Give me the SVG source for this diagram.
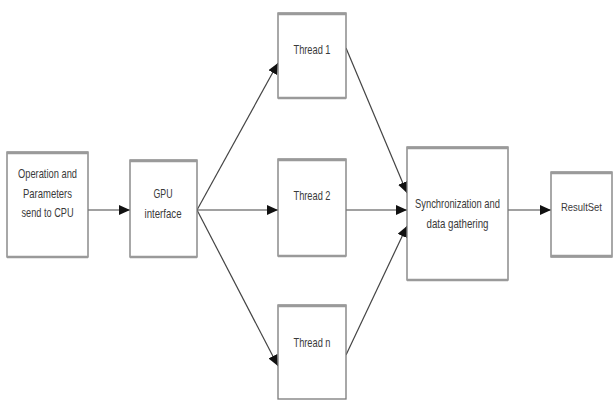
<svg xmlns="http://www.w3.org/2000/svg" width="613" height="400" viewBox="0 0 613 400">
<style>
.box{fill:#fff;stroke:#7a7a7a;stroke-width:1.3}
.edge{stroke:#9a9a9a;stroke-width:2.5}
.lbl{font-family:"Liberation Sans",Arial,sans-serif;font-size:13px;fill:#3a3a3a;text-anchor:middle}
.conn{stroke:#444;stroke-width:1.2;fill:none;marker-end:url(#arr)}
</style>
<defs>
<marker id="arr" markerUnits="userSpaceOnUse" markerWidth="12" markerHeight="11" refX="11" refY="5" orient="auto">
<path d="M0,0 L11,5 L0,10 z" fill="#111"/>
</marker>
</defs>
<rect width="613" height="400" fill="#fff"/>
<g id="connectors">
<line class="conn" x1="88" y1="210" x2="130" y2="210"/>
<line class="conn" x1="197" y1="210" x2="278" y2="63"/>
<line class="conn" x1="197" y1="210" x2="278" y2="210"/>
<line class="conn" x1="197" y1="210" x2="278" y2="366"/>
<line class="conn" x1="346" y1="48" x2="407" y2="193"/>
<line class="conn" x1="346" y1="210" x2="407" y2="210"/>
<line class="conn" x1="346" y1="355" x2="407" y2="226"/>
<line class="conn" x1="508" y1="210" x2="551" y2="210"/>
</g>
<g id="node-operation">
<rect class="box" x="7" y="152" width="81" height="105"/>
<line class="edge" x1="7" y1="153" x2="88" y2="153"/><line class="edge" x1="7" y1="257" x2="88" y2="257"/>
<text class="lbl" x="47.5" y="177.5" textLength="59" lengthAdjust="spacingAndGlyphs">Operation and</text>
<text class="lbl" x="47.5" y="197.5" textLength="49" lengthAdjust="spacingAndGlyphs">Parameters</text>
<text class="lbl" x="47.5" y="216.5" textLength="52" lengthAdjust="spacingAndGlyphs">send to CPU</text>
</g>
<g id="node-gpu">
<rect class="box" x="130" y="160" width="67" height="97"/>
<line class="edge" x1="130" y1="161" x2="197" y2="161"/><line class="edge" x1="130" y1="257" x2="197" y2="257"/>
<text class="lbl" x="163" y="197.5" textLength="19" lengthAdjust="spacingAndGlyphs">GPU</text>
<text class="lbl" x="163" y="217.5" textLength="37" lengthAdjust="spacingAndGlyphs">interface</text>
</g>
<g id="node-thread1">
<rect class="box" x="278" y="13" width="68" height="85"/>
<line class="edge" x1="278" y1="14" x2="346" y2="14"/><line class="edge" x1="278" y1="98" x2="346" y2="98"/>
<text class="lbl" x="312" y="53.5" textLength="37" lengthAdjust="spacingAndGlyphs">Thread 1</text>
</g>
<g id="node-thread2">
<rect class="box" x="278" y="159" width="68" height="97"/>
<line class="edge" x1="278" y1="160" x2="346" y2="160"/><line class="edge" x1="278" y1="256" x2="346" y2="256"/>
<text class="lbl" x="312" y="199.5" textLength="37" lengthAdjust="spacingAndGlyphs">Thread 2</text>
</g>
<g id="node-threadn">
<rect class="box" x="278" y="305" width="68" height="94"/>
<line class="edge" x1="278" y1="306" x2="346" y2="306"/>
<text class="lbl" x="312" y="346.5" textLength="37" lengthAdjust="spacingAndGlyphs">Thread n</text>
</g>
<g id="node-sync">
<rect class="box" x="407" y="147" width="101" height="133"/>
<line class="edge" x1="407" y1="148" x2="508" y2="148"/><line class="edge" x1="407" y1="280" x2="508" y2="280"/>
<text class="lbl" x="457.5" y="207.5" textLength="85" lengthAdjust="spacingAndGlyphs">Synchronization and</text>
<text class="lbl" x="457.5" y="227.5" textLength="62" lengthAdjust="spacingAndGlyphs">data gathering</text>
</g>
<g id="node-resultset">
<rect class="box" x="551" y="172" width="61" height="85"/>
<line class="edge" x1="551" y1="173" x2="612" y2="173"/><line class="edge" x1="551" y1="256" x2="612" y2="256"/>
<text class="lbl" x="581.5" y="211" style="font-size:11px" textLength="41" lengthAdjust="spacingAndGlyphs">ResultSet</text>
</g>
</svg>
